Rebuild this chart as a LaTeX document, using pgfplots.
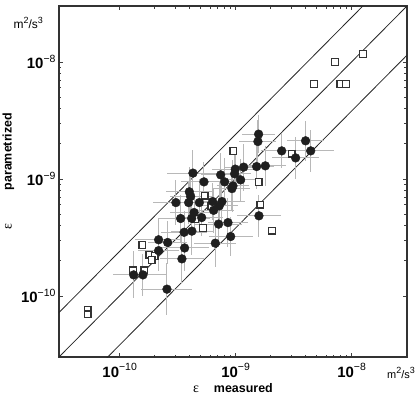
\documentclass[border=0pt]{standalone}
\usepackage{fontspec}
\setmainfont{Liberation Sans}
\newfontfamily\serifgr{Liberation Serif}
\usepackage{pgfplots}
\pgfplotsset{compat=1.18}
\usepackage{pgfplotstable}

\newcommand{\tl}[1]{{\fontsize{15}{16}\selectfont\bfseries 10}\raisebox{6.5bp}{\fontsize{10.5}{11}\selectfont −#1}}
\newcommand{\unit}{m\raisebox{4.5bp}{\fontsize{9}{10}\selectfont 2}/s\raisebox{4.5bp}{\fontsize{9}{10}\selectfont 3}}
\newcommand{\eps}{{\serifgr\fontsize{14}{14}\selectfont ε}}

% log10 of measured, log10 of parametrized, half-width of error bars in decades
\pgfplotstableread{
lx ly ex ey
-8.802 -8.618 0.14 0.16
-8.808 -8.681 0.16 0.18
-8.603 -8.761 0.18 0.15
-8.483 -8.821 0.20 0.18
-8.397 -8.675 0.16 0.17
-8.353 -8.761 0.20 0.18
-8.819 -8.895 0.15 0.19
-8.744 -8.889 0.18 0.17
-8.931 -8.900 0.16 0.20
-9.003 -8.917 0.20 0.18
-9.009 -8.957 0.14 0.16
-9.129 -8.966 0.17 0.19
-9.368 -8.951 0.22 0.20
-8.957 -9.009 0.15 0.18
-9.095 -9.026 0.18 0.20
-9.273 -9.026 0.20 0.17
-9.023 -9.060 0.14 0.22
-9.032 -9.083 0.16 0.18
-9.399 -9.111 0.20 0.21
-9.388 -9.151 0.18 0.17
-9.515 -9.203 0.20 0.19
-9.405 -9.203 0.17 0.18
-9.313 -9.203 0.19 0.20
-9.198 -9.194 0.15 0.16
-9.118 -9.194 0.20 0.18
-9.141 -9.231 0.16 0.20
-9.190 -9.269 0.18 0.19
-9.358 -9.288 0.21 0.17
-9.474 -9.339 0.19 0.20
-9.379 -9.338 0.16 0.18
-9.293 -9.331 0.18 0.16
-8.799 -9.316 0.19 0.18
-9.147 -9.387 0.20 0.19
-9.066 -9.374 0.17 0.21
-9.444 -9.457 0.20 0.18
-9.377 -9.447 0.18 0.20
-9.043 -9.493 0.19 0.17
-9.175 -9.550 0.18 0.20
-9.664 -9.521 0.20 0.19
-9.586 -9.544 0.17 0.18
-9.440 -9.591 0.21 0.20
-9.664 -9.614 0.18 0.17
-9.463 -9.684 0.19 0.21
-9.879 -9.821 0.18 0.20
-9.799 -9.821 0.21 0.18
-9.592 -9.943 0.22 0.22
}\circles

\pgfplotstableread{
lx ly
-9.020 -8.761
-8.517 -8.784
-8.802 -9.028
-9.267 -9.143
-8.787 -9.220
-9.209 -9.231
-9.347 -9.344
-9.282 -9.421
-8.684 -9.442
-9.803 -9.568
-9.744 -9.647
-9.698 -9.658
-9.724 -9.692
-9.885 -9.782
-9.787 -9.782
-10.276 -10.120
-10.276 -10.158
-7.903 -7.934
-8.144 -8.000
-8.322 -8.188
-8.097 -8.188
-8.049 -8.188
}\squares

\begin{document}
\begin{tikzpicture}
\begin{axis}[name=ax,
  xmode=log, ymode=log,
  scale only axis, width=348bp, height=351bp,
  xmin=3e-11, xmax=3e-8, ymin=3e-11, ymax=3e-8,
  xtick={1e-10,1e-9,1e-8}, ytick={1e-10,1e-9,1e-8},
  xticklabels={\tl{10},\tl{9},\tl{8}},
  yticklabels={\tl{10},\tl{9},\tl{8}},
  xticklabel style={yshift=-3bp},
  axis line style={line width=1.1bp, black!80},
  major tick length=4bp, minor tick length=2.5bp,
  every tick/.style={black!75, line width=0.6bp},
  xlabel={\fontsize{12.5}{14}\selectfont\eps\hspace{15bp}\textbf{measured}},
  ylabel={\fontsize{12.5}{14}\selectfont\eps\hspace{33bp}\textbf{parametrized}},
  ylabel style={at={(ticklabel cs:0.53)}},
  xlabel style={yshift=1bp},
]
\addplot[black!85, line width=0.8bp] coordinates {(1e-11,1e-11) (1e-7,1e-7)};
\addplot[black!85, line width=0.8bp] coordinates {(1e-11,2.4e-11) (1e-7,2.4e-7)};
\addplot[black!85, line width=0.8bp] coordinates {(1e-11,3.8e-12) (1e-7,3.8e-8)};
\addplot[only marks, mark=square*, mark size=3.4bp,
  mark options={fill=white, draw=black!80, line width=1.2bp}]
  table[x expr={10^(\thisrow{lx})}, y expr={10^(\thisrow{ly})}] {\squares};
\addplot[only marks, mark=*, mark size=4.4bp,
  mark options={fill=black!88, draw=black!88},
  error bars/.cd, x dir=both, y dir=both, x explicit, y explicit,
  error mark=none, error bar style={black!28, line width=1bp}]
  table[x expr={10^(\thisrow{lx})}, y expr={10^(\thisrow{ly})},
    x error plus expr={10^(\thisrow{lx}+\thisrow{ex})-10^(\thisrow{lx})},
    x error minus expr={10^(\thisrow{lx})-10^(\thisrow{lx}-\thisrow{ex})},
    y error plus expr={10^(\thisrow{ly}+\thisrow{ey})-10^(\thisrow{ly})},
    y error minus expr={10^(\thisrow{ly})-10^(\thisrow{ly}-\thisrow{ey})}] {\circles};
\end{axis}
\node[anchor=east, font=\fontsize{12}{14}\selectfont, inner sep=0pt] at ([xshift=-16bp,yshift=-17bp]ax.north west) {\unit};
\node[anchor=east, font=\fontsize{11}{13}\selectfont, inner sep=0pt] at ([xshift=8bp,yshift=-16bp]ax.south east) {\unit};
\pgfresetboundingbox
\path[use as bounding box] ([xshift=-59bp,yshift=-40bp]ax.south west) rectangle ([xshift=9bp,yshift=6bp]ax.north east);
\end{tikzpicture}
\end{document}
